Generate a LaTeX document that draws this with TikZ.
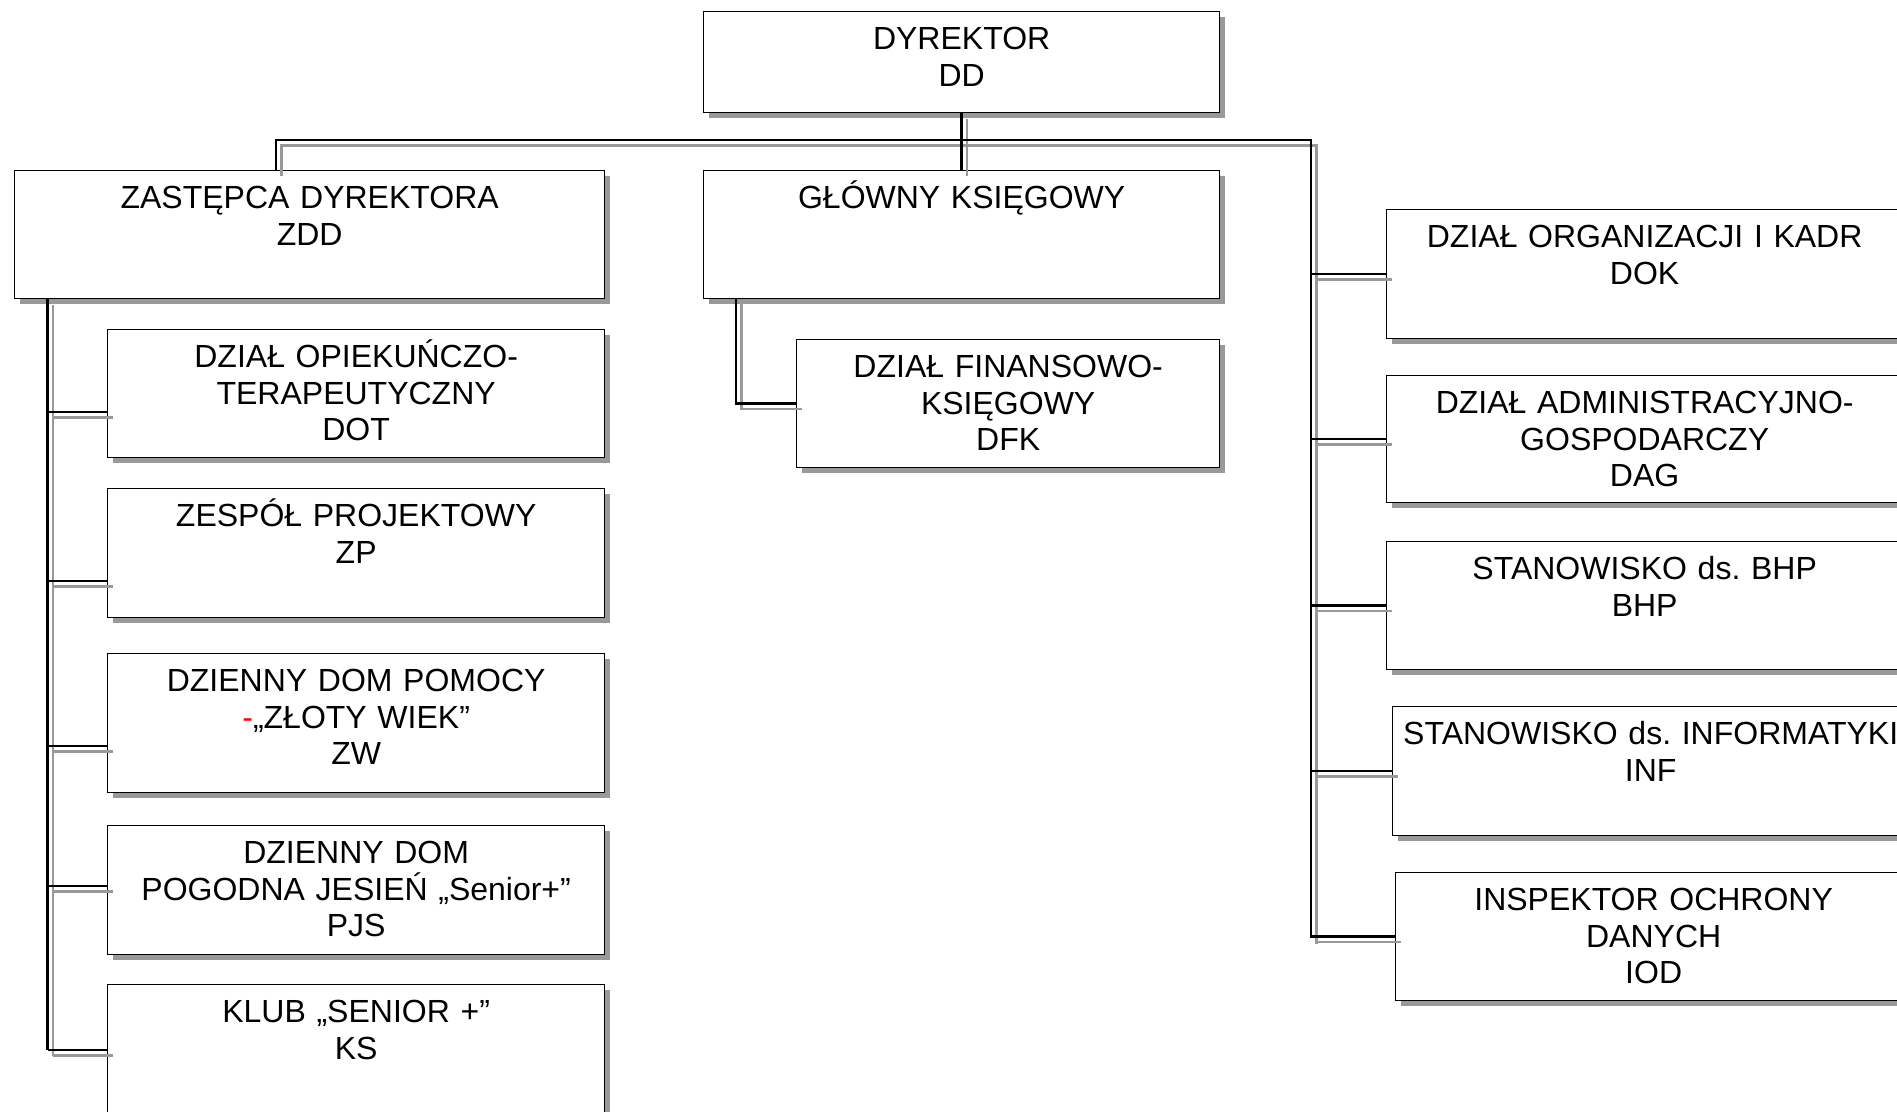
\documentclass[tikz,border=0pt]{standalone}
\usepackage{fontspec}
\setmainfont{Liberation Sans}
\usetikzlibrary{shadows}

\newcommand{\unitfont}{\fontsize{32}{36.5}\selectfont\frenchspacing}

\tikzset{
	unit/.style={rectangle, draw=black, line width=1.3pt, fill=white, inner sep=0pt,
		anchor=north west, align=center, text height=38pt, font=\unitfont,
		drop shadow={shadow xshift=5.5pt, shadow yshift=-5.5pt, opacity=1, fill=black!40}},
	wire/.style={line width=2.4pt}
}

\newcommand{\orglinks}{%
	\draw[wire] (dd) -- (gk);
	\draw[wire] (zdd.north -| bus-l) -- (bus-l) -- (bus-r) -- (stem-r);
	\foreach \n in {dok, dag, bhp, inf, iod} {
		\draw[wire] (stem-r |- \n.west) -- (\n.west);
	}
	\draw[wire] (zdd.south -| stem-l) -- (stem-l);
	\foreach \n/\y in {dot/412, zp/581, zw/746, pjs/886, ks/1050} {
		\draw[wire] (stem-l |- 0,\y) -- (\n.west |- 0,\y);
	}
	\draw[wire] (gk-stem) |- (dfk.west);
}

\begin{document}
\begin{tikzpicture}[x=1pt, y=-1pt]
		\useasboundingbox (0,0) rectangle (1897,1111);
		\clip (0,0) rectangle (1897,1111);

		\coordinate (bus-l) at (276,140);
		\coordinate (bus-r) at (1311,140);
		\coordinate (stem-r) at (1311,938);
		\coordinate (stem-l) at (47.5,1050);
		\coordinate (gk-stem) at (736,298);

		\node[unit, text width=516pt, text depth=63pt] (dd) at (703,11) {DYREKTOR\\DD};
		\node[unit, text width=590pt, text depth=90pt] (zdd) at (14,170) {ZASTĘPCA DYREKTORA\\ZDD};
		\node[unit, text width=516pt, text depth=90pt] (gk) at (703,170) {GŁÓWNY KSIĘGOWY};
		\node[unit, text width=423pt, text depth=90pt] (dfk) at (796,339) {DZIAŁ FINANSOWO-\\KSIĘGOWY\\DFK};

		\node[unit, text width=497pt, text depth=90pt] (dot) at (107,329) {DZIAŁ OPIEKUŃCZO-\\TERAPEUTYCZNY\\DOT};
		\node[unit, text width=497pt, text depth=91pt] (zp) at (107,488) {ZESPÓŁ PROJEKTOWY\\ZP};
		\node[unit, text width=497pt, text depth=101pt] (zw) at (107,653) {DZIENNY DOM POMOCY\\{\color{red}-}„ZŁOTY WIEK”\\ZW};
		\node[unit, text width=497pt, text depth=91pt] (pjs) at (107,825) {DZIENNY DOM\\POGODNA JESIEŃ „Senior+”\\PJS};
		\node[unit, text width=497pt, text depth=112pt] (ks) at (107,984) {KLUB „SENIOR +”\\KS};

		\node[unit, text width=516pt, text depth=91pt] (dok) at (1386,209) {DZIAŁ ORGANIZACJI I KADR\\DOK};
		\node[unit, text width=516pt, text depth=89pt] (dag) at (1386,375) {DZIAŁ ADMINISTRACYJNO-\\GOSPODARCZY\\DAG};
		\node[unit, text width=516pt, text depth=90pt] (bhp) at (1386,541) {STANOWISKO ds. BHP\\BHP};
		\node[unit, text width=516pt, text depth=91pt] (inf) at (1392,706) {STANOWISKO ds. INFORMATYKI\\INF};
		\node[unit, text width=516pt, text depth=90pt] (iod) at (1395,872) {INSPEKTOR OCHRONY\\DANYCH\\IOD};

		\begin{scope}[black!40, transform canvas={shift={(5.5pt,-5.5pt)}}]
			\orglinks
		\end{scope}
		\orglinks
	\end{tikzpicture}
\end{document}
